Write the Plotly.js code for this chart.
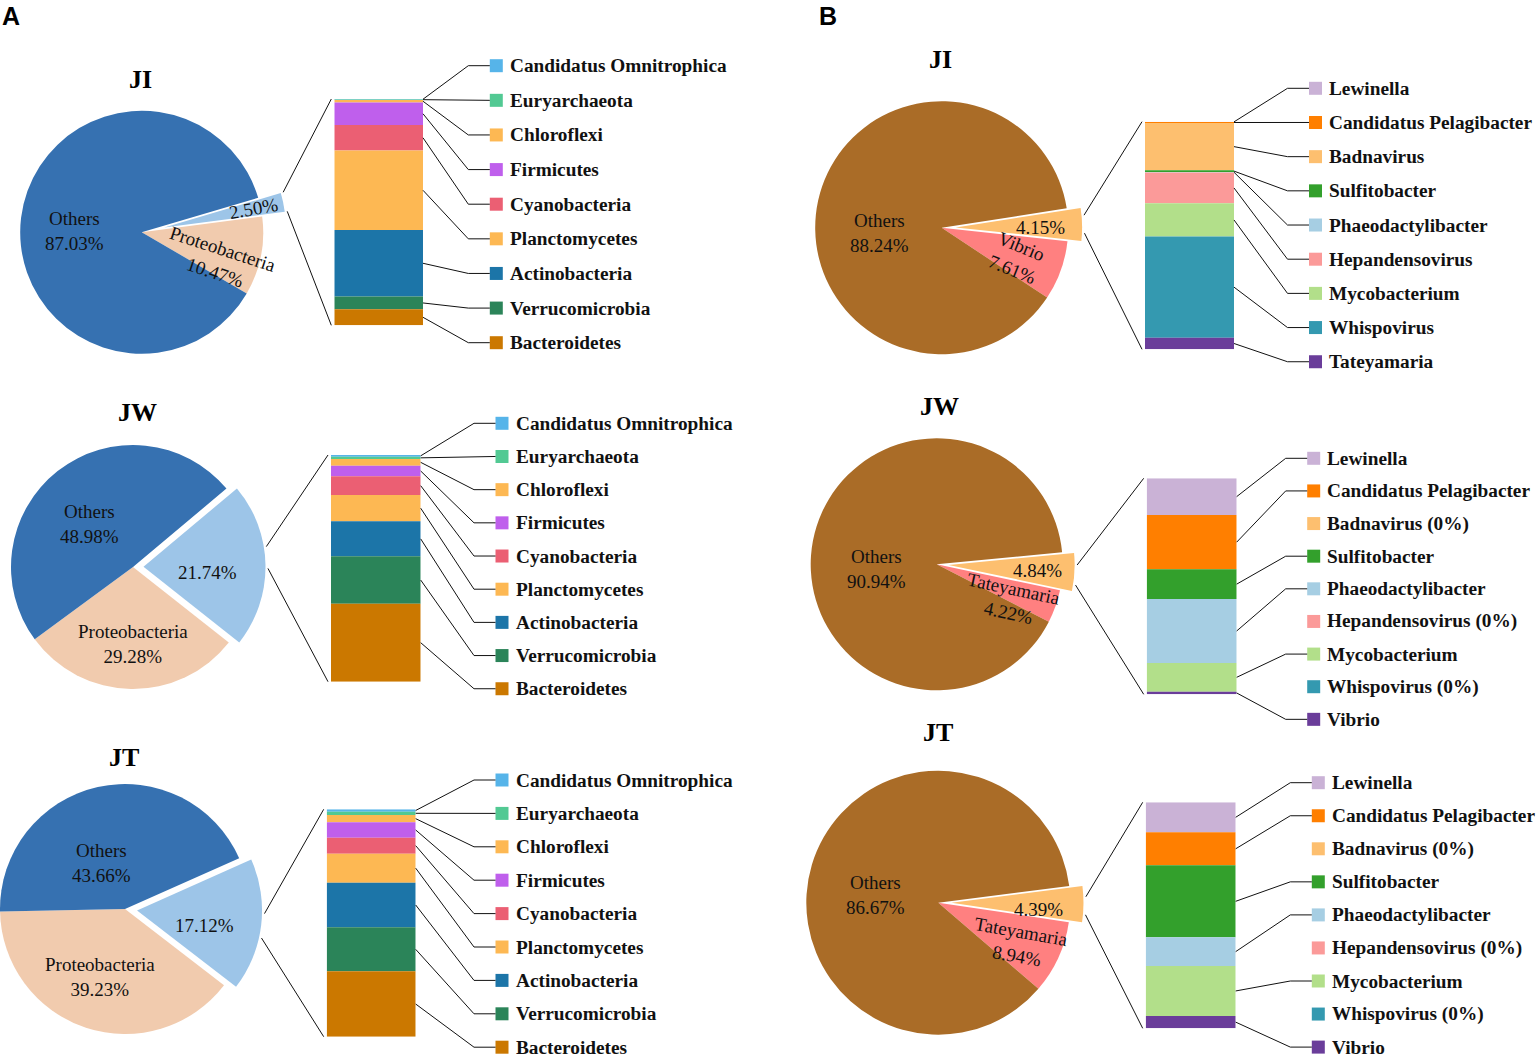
<!DOCTYPE html>
<html><head><meta charset="utf-8">
<script src="https://cdn.plot.ly/plotly-3.0.1.min.js"></script>
<style>html,body{margin:0;padding:0;background:#fff}</style>
</head><body><div id="chart" style="width:1537px;height:1061px"></div>
<script>
// ---------------- data ----------------
const phylaNames = ['Candidatus Omnitrophica','Euryarchaeota','Chloroflexi','Firmicutes','Cyanobacteria','Planctomycetes','Actinobacteria','Verrucomicrobia','Bacteroidetes'];
const phylaColors = ['#56b4e9','#52c993','#fdb853','#bf5fec','#eb5f73','#fdb853','#1c75a8','#2b8459','#cb7800'];
const phylaJI = [0.2, 0.2, 1.2, 9.87, 11.34, 35.05, 29.46, 5.6, 7.07];
const phylaJW = [0.74, 1.03, 2.94, 4.71, 8.24, 11.62, 15.44, 20.88, 34.41];
const phylaJT = [1.03, 1.47, 3.23, 6.74, 7.04, 12.76, 19.65, 19.35, 28.74];

const pieALabels = ['', 'Proteobacteria', 'Others'];
const pieAColors = ['#9dc5e8', '#f1cbae', '#3671b1'];
const pieAJI = [2.50, 10.47, 87.03];
const pieAJW = [21.74, 29.28, 48.98];
const pieAJT = [17.12, 39.23, 43.66];

const generaJI = ['Lewinella','Candidatus Pelagibacter','Badnavirus','Sulfitobacter','Phaeodactylibacter','Hepandensovirus','Mycobacterium','Whispovirus','Tateyamaria'];
const generaJWJT = ['Lewinella','Candidatus Pelagibacter','Badnavirus','Sulfitobacter','Phaeodactylibacter','Hepandensovirus','Mycobacterium','Whispovirus','Vibrio'];
const generaColors = ['#cab2d6','#ff7f00','#fdbf6f','#33a02c','#a6cee3','#fb9a99','#b2df8a','#3499b0','#6a3d9a'];
const generaValJI = [0.15, 0.4, 20.8, 0.7, 0.3, 13.5, 14.6, 44.4, 5.1];
const generaValJW = [16.98, 25.15, 0, 13.73, 29.63, 0, 13.27, 0, 1.23];
const generaValJT = [13.27, 14.6, 0, 31.86, 12.68, 0, 22.12, 0, 5.46];

const pieBColors = ['#fdbf6f', '#ff8080', '#aa6c27'];
const pieBLabelsJI = ['', 'Vibrio', 'Others'];
const pieBLabelsJWJT = ['', 'Tateyamaria', 'Others'];
const pieBJI = [4.15, 7.61, 88.24];
const pieBJW = [4.84, 4.22, 90.94];
const pieBJT = [4.39, 8.94, 86.67];

// ---------------- layout config ----------------
const W = 1537, H = 1061;
const SERIF = 'Liberation Serif, Times New Roman, serif';
const SANS = 'Liberation Sans, Arial, sans-serif';

const panels = [
  {title:'JI', tx:140.5, ty:79, pieVals:pieAJI, pieLabels:pieALabels, pieColors:pieAColors,
   names:phylaNames, colors:phylaColors, vals:phylaJI, zeroTag:false,
   cx:141.7, cy:232.3, r:121.5, pull:0.19, rot:73.5,
   lab:[[0.75,0,-10],[0.68,-8.8,18],[0.55,5.3,0]], link:[4.5,-4.5],
   bar:[334.3,423,99,325.3], leg:[496.3,65.7,34.625]},
  {title:'JW', tx:137.5, ty:412.5, pieVals:pieAJW, pieLabels:pieALabels, pieColors:pieAColors,
   names:phylaNames, colors:phylaColors, vals:phylaJW, zeroTag:false,
   cx:133, cy:567, r:122, pull:0.086, rot:50,
   lab:[[0.53,-6,0],[0.63,0.8,0],[0.5,7,0]], link:[8.5,-1.6],
   bar:[331,420.7,455,681.7], leg:[502,423.3,33.18]},
  {title:'JT', tx:124, ty:757, pieVals:pieAJT, pieLabels:pieALabels, pieColors:pieAColors,
   names:phylaNames, colors:phylaColors, vals:phylaJT, zeroTag:false,
   cx:125, cy:909, r:125, pull:0.097, rot:66,
   lab:[[0.556,-5.3,0],[0.58,-2,0],[0.41,14.4,0]], link:[5.4,-5.7],
   bar:[326.7,415.7,809.3,1036.7], leg:[502,780,33.4]},
  {title:'JI', tx:940.8, ty:59, pieVals:pieBJI, pieLabels:pieBLabelsJI, pieColors:pieBColors,
   names:generaJI, colors:generaColors, vals:generaValJI, zeroTag:true,
   cx:941.7, cy:227.7, r:126.5, pull:0.11, rot:81.2,
   lab:[[0.67,-1.5,0],[0.64,-2.5,22],[0.49,17,0]], link:[4.1,-3.9],
   bar:[1145,1234,121.7,349.3], leg:[1315.5,88.3,34.18]},
  {title:'JW', tx:939, ty:406.5, pieVals:pieBJW, pieLabels:pieBLabelsJWJT, pieColors:pieBColors,
   names:generaJWJT, colors:generaColors, vals:generaValJW, zeroTag:true,
   cx:936.7, cy:564.3, r:126, pull:0.095, rot:84.5,
   lab:[[0.71,-0.4,0],[0.66,-6.9,12],[0.48,14.9,0]], link:[3.2,-5.8],
   bar:[1146.7,1236.7,478.3,694.3], leg:[1313.7,458.3,32.63]},
  {title:'JT', tx:938.3, ty:732.5, pieVals:pieBJT, pieLabels:pieBLabelsJWJT, pieColors:pieBColors,
   names:generaJWJT, colors:generaColors, vals:generaValJT, zeroTag:true,
   cx:938.3, cy:902.7, r:132, pull:0.1, rot:82.7,
   lab:[[0.66,-3.5,0],[0.69,-2.4,10],[0.48,10,0]], link:[3.2,-4.5],
   bar:[1145.7,1235.7,802.3,1028.3], leg:[1318.3,782.7,33.05]}
];

const TR = 'rgba(0,0,0,0)';
const rad = d => d * Math.PI / 180;
const clamp = v => Math.max(0, Math.min(1, v));
const dom = (cx, cy, r) => ({x:[clamp((cx - r) / W), clamp((cx + r) / W)], y:[clamp(1 - (cy + r) / H), clamp(1 - (cy - r) / H)]});

const traces = [];
const annotations = [];
const layout = {
  width: W, height: H, margin:{l:0,r:0,t:0,b:0},
  paper_bgcolor:'#ffffff', plot_bgcolor:TR, showlegend:false,
  barmode:'overlay',
  xaxis7:{domain:[0,1], range:[0,W], visible:false, fixedrange:true, anchor:'y7'},
  yaxis7:{domain:[0,1], range:[H,0], visible:false, fixedrange:true, anchor:'x7'}
};

annotations.push({xref:'paper', yref:'paper', x:0, y:1 - 16 / H, xanchor:'left', yanchor:'middle', showarrow:false,
  text:'A', font:{family:SANS, size:25, color:'#000', weight:'bold'}});
annotations.push({xref:'paper', yref:'paper', x:817 / W, y:1 - 16 / H, xanchor:'left', yanchor:'middle', showarrow:false,
  text:'B', font:{family:SANS, size:25, color:'#000', weight:'bold'}});

panels.forEach((p, i) => {
  const ax = i === 0 ? '' : String(i + 1);
  // ---- pie geometry from data ----
  const sum = p.pieVals.reduce((a, b) => a + b, 0);
  const spans = p.pieVals.map(v => 360 * v / sum);
  const top = 90 - p.rot;
  const mids = [top - spans[0] / 2, top - spans[0] - spans[1] / 2, top - spans[0] - spans[1] - spans[2] / 2];
  const d = p.pull * p.r;
  const ex = p.cx + d * Math.cos(rad(mids[0]));
  const ey = p.cy - d * Math.sin(rad(mids[0]));
  const hoverLabels = p.pieLabels.map(l => l || 'Breakdown');

  traces.push({type:'pie', values:p.pieVals, labels:hoverLabels, sort:false, direction:'clockwise',
    rotation:p.rot, textinfo:'none', hoverinfo:'label+percent', showlegend:false,
    marker:{colors:[TR, p.pieColors[1], p.pieColors[2]], line:{width:0}},
    domain:dom(p.cx, p.cy, p.r)});
  traces.push({type:'pie', values:p.pieVals, labels:hoverLabels, sort:false, direction:'clockwise',
    rotation:p.rot, textinfo:'none', hoverinfo:'label+percent', showlegend:false,
    marker:{colors:[p.pieColors[0], TR, TR], line:{width:0}},
    domain:dom(ex, ey, p.r)});

  // pie labels
  p.pieVals.forEach((v, k) => {
    const [f, dA, ta] = p.lab[k];
    const c = k === 0 ? [ex, ey] : [p.cx, p.cy];
    const a = rad(mids[k] + dA);
    const pct = v.toFixed(2) + '%';
    annotations.push({xref:'x7', yref:'y7', x:c[0] + f * p.r * Math.cos(a), y:c[1] - f * p.r * Math.sin(a),
      xanchor:'center', yanchor:'middle', showarrow:false, textangle:ta,
      text: p.pieLabels[k] ? p.pieLabels[k] + '<br>' + pct : pct,
      font:{family:SERIF, size:19, color:'#111'}});
  });

  // title
  annotations.push({xref:'x7', yref:'y7', x:p.tx, y:p.ty, xanchor:'center', yanchor:'middle', showarrow:false,
    text:p.title, font:{family:SERIF, size:26, color:'#000', weight:'bold'}});

  // ---- stacked bar ----
  const [bx0, bx1, by0, by1] = p.bar;
  const total = p.vals.reduce((a, b) => a + b, 0);
  const base = []; let acc = 0;
  for (let k = p.vals.length - 1; k >= 0; k--) { base[k] = acc; acc += p.vals[k]; }
  traces.push({type:'bar', x:p.vals.map(() => 0), y:p.vals, base:base, width:p.vals.map(() => 1),
    marker:{color:p.colors, line:{width:0}}, hovertext:p.names, hoverinfo:'text+y',
    xaxis:'x' + ax, yaxis:'y' + ax, showlegend:false});
  layout['xaxis' + ax] = {domain:[bx0 / W, bx1 / W], range:[-0.5, 0.5], visible:false, fixedrange:true, anchor:'y' + ax};
  layout['yaxis' + ax] = {domain:[1 - by1 / H, 1 - by0 / H], range:[0, total], visible:false, fixedrange:true, anchor:'x' + ax};

  // ---- legend rows ----
  const [mx, ly0, step] = p.leg;
  const rowsY = p.names.map((_, k) => ly0 + k * step);
  traces.push({type:'scatter', mode:'markers', x:p.names.map(() => mx), y:rowsY,
    marker:{symbol:'square', size:13, color:p.colors, line:{width:0}}, cliponaxis:false,
    xaxis:'x7', yaxis:'y7', hoverinfo:'skip', showlegend:false});
  p.names.forEach((n, k) => {
    annotations.push({xref:'x7', yref:'y7', x:mx + 11.5, y:rowsY[k], xanchor:'left', yanchor:'middle', showarrow:false,
      text: n + (p.zeroTag && p.vals[k] === 0 ? ' (0%)' : ''),
      font:{family:SERIF, size:19.3, color:'#111', weight:'bold'}});
  });

  // ---- connector lines ----
  const lx = [], ly = [];
  const yOf = val => by1 - val / total * (by1 - by0);
  p.vals.forEach((v, k) => {
    if (v <= 0) return;
    lx.push(bx1, mx - 28, mx - 6.5, null);
    ly.push(yOf(base[k] + v / 2), rowsY[k], rowsY[k], null);
  });
  const gap = 2.5;
  const aU = rad(mids[0] + p.link[0]), aD = rad(mids[0] + p.link[1]);
  lx.push(ex + (p.r + gap) * Math.cos(aU), bx0 - 3, null, ex + (p.r + gap) * Math.cos(aD), bx0 - 3, null);
  ly.push(ey - (p.r + gap) * Math.sin(aU), by0, null, ey - (p.r + gap) * Math.sin(aD), by1, null);
  traces.push({type:'scatter', mode:'lines', x:lx, y:ly, connectgaps:false,
    line:{color:'#111', width:1}, xaxis:'x7', yaxis:'y7', hoverinfo:'skip', showlegend:false});
});

layout.annotations = annotations;
Plotly.newPlot('chart', traces, layout, {displayModeBar:false, staticPlot:true});
</script>
</body></html>
